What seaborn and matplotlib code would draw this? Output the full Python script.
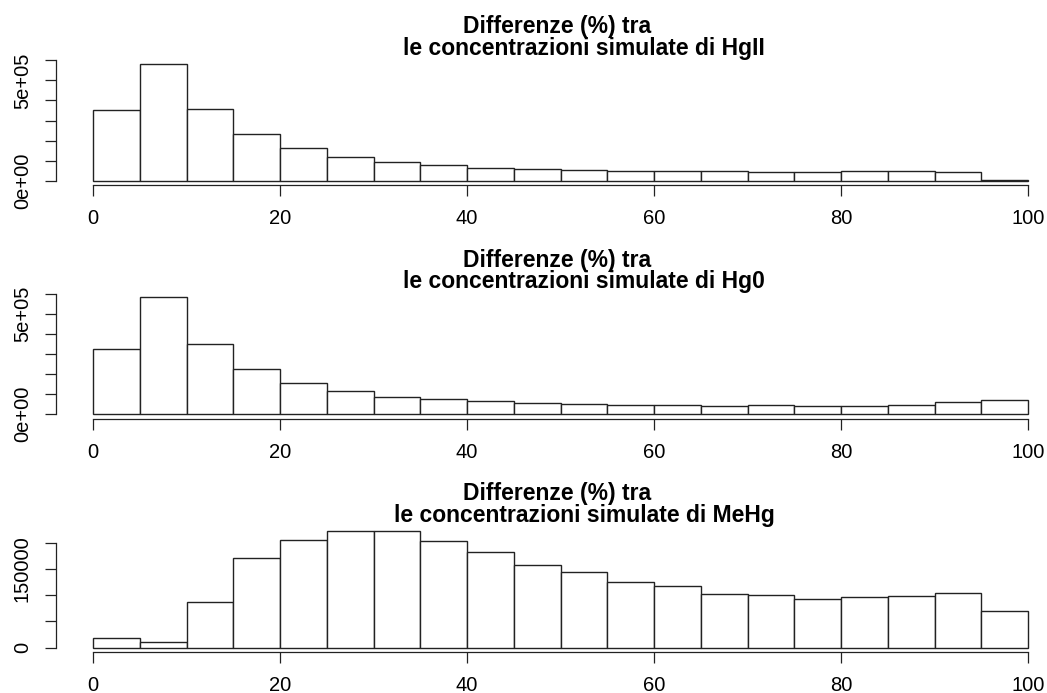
import numpy as np
import pandas as pd
import matplotlib
matplotlib.use("Agg")
import matplotlib.pyplot as plt
import seaborn as sns

# ---- data ----
bin_edges = list(range(0, 105, 5))
title_line1 = "Differenze (%) tra"
title_line2 = ["le concentrazioni simulate di HgII",
               "le concentrazioni simulate di Hg0",
               "le concentrazioni simulate di MeHg"]
counts_hgii = [352000, 583000, 359000, 233000, 161000, 119000, 94000, 77000, 65000, 57000,
               52000, 49000, 47500, 46000, 44500, 44500, 47500, 47500, 41000, 6000]
counts_hg0 = [328000, 586000, 350000, 225000, 158000, 115000, 88000, 75000, 65000, 58000,
              52000, 48000, 45000, 42000, 45000, 43000, 43000, 48000, 63000, 70000]
counts_mehg = [19000, 10000, 87000, 171000, 206000, 223000, 222000, 203000, 182000, 157000,
               144000, 126000, 117000, 103000, 100000, 93000, 96000, 98000, 105000, 70000]
x_ticks = [0, 20, 40, 60, 80, 100]
y_ticks_1 = [0, 100000, 200000, 300000, 400000, 500000, 600000]
y_labels_1 = ["0e+00", "", "", "", "", "5e+05", ""]
y_ticks_3 = [0, 50000, 100000, 150000, 200000]
y_labels_3 = ["0", "", "", "150000", ""]

sns.set_theme(style="white")
plt.rcParams["font.family"] = ["Liberation Sans", "DejaVu Sans"]

W, H = 1047, 693
fig = plt.figure(figsize=(W / 100, H / 100), dpi=100)

# axes boxes in pixels: (left, top, right, bottom)
boxes = [(55.6, 59.1, 1065.4, 185.4),
         (55.6, 292.4, 1065.4, 419.0),
         (55.6, 526.0, 1065.4, 652.4)]
series = [counts_hgii, counts_hg0, counts_mehg]
yt = [(y_ticks_1, y_labels_1), (y_ticks_1, y_labels_1), (y_ticks_3, y_labels_3)]

centers = [(a + b) / 2 for a, b in zip(bin_edges[:-1], bin_edges[1:])]
ink = "#222222"
for box, counts, line2, (ticks, labels) in zip(boxes, series, title_line2, yt):
    l, t, r, b = box
    ax = fig.add_axes([l / W, 1 - b / H, (r - l) / W, (b - t) / H])
    df = pd.DataFrame({"x": centers, "w": counts})
    sns.histplot(data=df, x="x", weights="w", bins=bin_edges, stat="count",
                 color="white", edgecolor=ink, linewidth=1.0, alpha=1, ax=ax)
    m = max(counts)
    ax.set_xlim(-4, 104)
    ax.set_ylim(-0.04 * m, 1.04 * m)
    for s in ["top", "right"]:
        ax.spines[s].set_visible(False)
    for s in ["left", "bottom"]:
        ax.spines[s].set_color(ink)
        ax.spines[s].set_linewidth(0.9)
    ax.spines["bottom"].set_bounds(0, 100)
    ax.spines["left"].set_bounds(ticks[0], ticks[-1])
    ax.set_xticks(x_ticks)
    ax.set_xticklabels([str(v) for v in x_ticks])
    ax.set_yticks(ticks)
    ax.set_yticklabels(labels)
    ax.tick_params(axis="both", direction="out", length=8, width=0.9, color=ink,
                   labelsize=14.5, pad=9, labelcolor="black",
                   bottom=True, left=True)
    for lbl in ax.get_yticklabels():
        lbl.set_rotation(90)
        lbl.set_va("center")
        lbl.set_ha("right")
    ax.set_xlabel("")
    ax.set_ylabel("")
    ax.grid(False)
    # two-line title
    fig.text(557 / W, 1 - (t - 25.8) / H, title_line1, ha="center", va="baseline",
             fontsize=16.5, fontweight="bold", color="black")
    fig.text(584 / W, 1 - (t - 4.0) / H, line2, ha="center", va="baseline",
             fontsize=16.5, fontweight="bold", color="black")

fig.savefig("out.png", dpi=100)
